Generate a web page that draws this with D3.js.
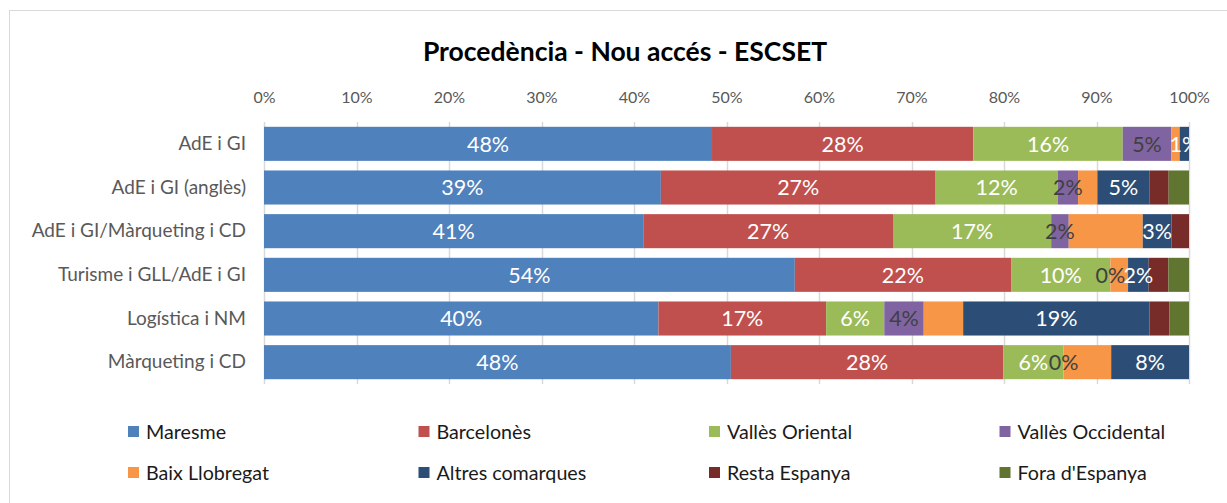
<!DOCTYPE html>
<html>
<head>
<meta charset="utf-8">
<script src="https://cdn.jsdelivr.net/npm/d3@7"></script>
<style>
  body { margin: 0; background: #fff; }
  svg { font-family: Lato, "Open Sans", sans-serif; }
</style>
</head>
<body>
<svg id="chart" width="1227" height="503"></svg>
<script>
// categories (top to bottom)
var categories = ['AdE i GI', 'AdE i GI (anglès)', 'AdE i GI/Màrqueting i CD',
                  'Turisme i GLL/AdE i GI', 'Logística i NM', 'Màrqueting i CD'];

// series values, in % (rows do not add to 100, the chart normalises them)
var maresme          = [48,  39,  41,   54,   40,   48];
var barcelones       = [28,  27,  27,   22,   17,   28];
var vallesOriental   = [16,  12,  17.1, 10.1, 5.9,  6.2];
var vallesOccidental = [5.2, 2,   1.9,  0,    4.0,  0];
var baixLlobregat    = [0.9, 1.9, 8.0,  1.8,  4.0,  4.9];
var altresComarques  = [1.0, 5.1, 3.1,  2.1,  18.9, 8.0];
var restaEspanya     = [0,   1.9, 1.9,  2.0,  2.0,  0];
var foraEspanya      = [0,   2.0, 0,    2.1,  2.0,  0];

var seriesNames = ['Maresme', 'Barcelonès', 'Vallès Oriental', 'Vallès Occidental',
                   'Baix Llobregat', 'Altres comarques', 'Resta Espanya', "Fora d'Espanya"];
var seriesValues = [maresme, barcelones, vallesOriental, vallesOccidental,
                    baixLlobregat, altresComarques, restaEspanya, foraEspanya];
var colors = ['#4F81BD', '#C0504D', '#9BBB59', '#8064A2',
              '#F79646', '#2C4D75', '#772C2A', '#5F7530'];
// series that carry data labels
var labelled = ['Maresme', 'Barcelonès', 'Vallès Oriental', 'Vallès Occidental', 'Altres comarques'];

var xTicks = d3.range(0, 1.0001, 0.1);

// build rows for d3.stack
var rows = categories.map(function(c, i) {
  var r = { category: c };
  seriesNames.forEach(function(s, j) { r[s] = seriesValues[j][i]; });
  return r;
});

var stacked = d3.stack()
  .keys(seriesNames)
  .offset(d3.stackOffsetExpand)(rows);

var svg = d3.select('#chart');

// chart border
svg.append('rect')
  .attr('x', 9.5).attr('y', 10.5)
  .attr('width', 1240).attr('height', 520)
  .attr('fill', 'none').attr('stroke', '#d9d9d9');

svg.append('text')
  .attr('x', 625).attr('y', 61)
  .attr('text-anchor', 'middle')
  .style('font-size', '26.5px').style('font-weight', 'bold')
  .style('fill', '#000')
  .text('Procedència - Nou accés - ESCSET');

var x = d3.scaleLinear().domain([0, 1]).range([264, 1189]);
var y = d3.scaleBand().domain(categories).range([122, 384])
  .paddingInner(0.22).paddingOuter(0.11);

// gridlines
svg.append('g')
  .selectAll('line')
  .data(xTicks)
  .join('line')
  .attr('x1', function(d) { return Math.round(x(d)) + 0.5; })
  .attr('x2', function(d) { return Math.round(x(d)) + 0.5; })
  .attr('y1', 122).attr('y2', 384)
  .attr('stroke', '#d9d9d9').attr('stroke-width', 1.5);

// top axis labels
var xAxis = svg.append('g')
  .attr('transform', 'translate(0,106)')
  .call(d3.axisTop(x).tickValues(xTicks).tickFormat(d3.format('.0%')).tickSize(0));
xAxis.select('.domain').remove();
xAxis.selectAll('text')
  .style('font-family', 'Lato, "Open Sans", sans-serif')
  .style('font-size', '16px').style('fill', '#595959');

// category axis
var yAxis = svg.append('g')
  .attr('transform', 'translate(264,0)')
  .call(d3.axisLeft(y).tickSize(0).tickPadding(18));
yAxis.select('.domain').remove();
yAxis.selectAll('text')
  .style('font-family', 'Lato, "Open Sans", sans-serif')
  .style('font-size', '19px').style('fill', '#595959');

svg.append('clipPath').attr('id', 'plot')
  .append('rect').attr('x', 264).attr('y', 110).attr('width', 925).attr('height', 290);

// bars
var layer = svg.append('g')
  .selectAll('g')
  .data(stacked)
  .join('g')
  .attr('fill', function(d, i) { return colors[i]; });

layer.selectAll('rect')
  .data(function(d) { return d; })
  .join('rect')
  .attr('x', function(d) { return x(d[0]); })
  .attr('y', function(d) { return y(d.data.category); })
  .attr('width', function(d) { return x(d[1]) - x(d[0]); })
  .attr('height', y.bandwidth());

// data labels
var fmt = d3.format('.0%');
var labels = svg.append('g').attr('clip-path', 'url(#plot)');
stacked.forEach(function(s, i) {
  if (labelled.indexOf(s.key) < 0) return;
  labels.selectAll(null)
    .data(s)
    .join('text')
    .attr('x', function(d) { return (x(d[0]) + x(d[1])) / 2; })
    .attr('y', function(d) { return y(d.data.category) + y.bandwidth() / 2; })
    .attr('dy', '0.36em')
    .attr('text-anchor', 'middle')
    .style('font-size', '21.5px')
    .style('fill', s.key === 'Vallès Occidental' ? '#404040' : '#fff')
    .text(function(d) { return fmt(d.data[s.key] / 100); });
});

// legend, 4 columns x 2 rows
var legend = svg.append('g')
  .selectAll('g')
  .data(seriesNames)
  .join('g')
  .attr('transform', function(d, i) {
    return 'translate(' + (128 + (i % 4) * 290.5) + ',' + (432 + Math.floor(i / 4) * 41) + ')';
  });
legend.append('rect')
  .attr('x', 0).attr('y', -6).attr('width', 11).attr('height', 11)
  .attr('fill', function(d, i) { return colors[i]; });
legend.append('text')
  .attr('x', 18).attr('dy', '0.35em')
  .style('font-size', '19.7px').style('fill', '#1a1a1a')
  .text(function(d) { return d; });
</script>
</body>
</html>
